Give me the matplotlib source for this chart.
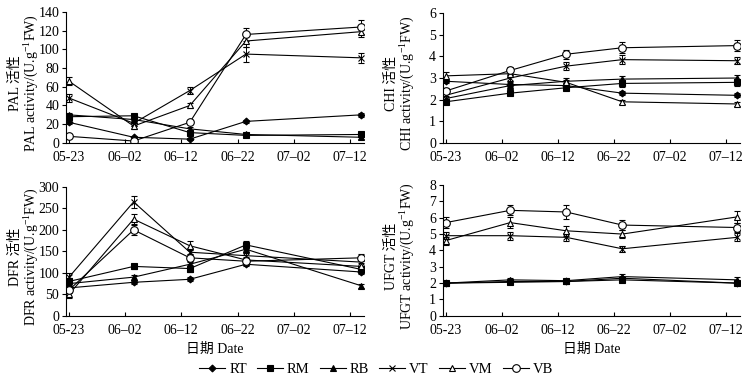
import matplotlib
matplotlib.use("Agg")
import matplotlib.pyplot as plt
from matplotlib.lines import Line2D

plt.rcParams["font.family"] = ["Liberation Serif", "Noto Sans CJK SC"]
plt.rcParams["mathtext.fontset"] = "custom"
plt.rcParams["mathtext.rm"] = "Liberation Serif"

# sampling days counted from 05-23
days = [0, 11.5, 21.5, 31.5, 52]
tick_days = [0, 10, 20, 30, 40, 50]
tick_labels = ["05-23", "06\u201302", "06\u201312", "06\u201322", "07\u201302", "07\u201312"]

series = ["RT", "RM", "RB", "VT", "VM", "VB"]

pal = {
    "RT": [22, 6, 4, 23, 30],
    "RM": [28, 29, 11, 8, 9],
    "RB": [30, 25, 15, 9, 6],
    "VT": [48, 21, 56, 95, 91],
    "VM": [66, 18, 40, 109, 119],
    "VB": [7, 2, 22, 116, 124],
}
pal_err = {
    "RT": [2, 1, 1, 2, 2],
    "RM": [3, 2, 2, 2, 3],
    "RB": [2, 2, 2, 2, 2],
    "VT": [4, 3, 4, 8, 5],
    "VM": [4, 3, 3, 6, 6],
    "VB": [2, 1, 2, 7, 7],
}

chi = {
    "RT": [2.85, 2.7, 2.65, 2.3, 2.2],
    "RM": [1.9, 2.3, 2.55, 2.75, 2.8],
    "RB": [2.05, 2.65, 2.85, 2.95, 3.0],
    "VT": [2.2, 3.0, 3.55, 3.85, 3.8],
    "VM": [3.1, 3.2, 2.8, 1.9, 1.8],
    "VB": [2.4, 3.35, 4.1, 4.4, 4.5],
}
chi_err = {
    "RT": [0.1, 0.1, 0.1, 0.1, 0.1],
    "RM": [0.1, 0.1, 0.1, 0.15, 0.15],
    "RB": [0.1, 0.1, 0.15, 0.15, 0.15],
    "VT": [0.15, 0.15, 0.2, 0.2, 0.15],
    "VM": [0.2, 0.15, 0.1, 0.1, 0.1],
    "VB": [0.15, 0.15, 0.2, 0.25, 0.25],
}

dfr = {
    "RT": [65, 78, 85, 120, 102],
    "RM": [80, 115, 110, 165, 108],
    "RB": [75, 90, 120, 155, 70],
    "VT": [90, 265, 148, 140, 125],
    "VM": [50, 225, 163, 130, 115],
    "VB": [60, 200, 135, 127, 135],
}
dfr_err = {
    "RT": [5, 5, 5, 5, 5],
    "RM": [8, 6, 8, 10, 8],
    "RB": [8, 6, 8, 8, 5],
    "VT": [10, 14, 10, 8, 8],
    "VM": [8, 12, 10, 8, 8],
    "VB": [8, 12, 10, 8, 8],
}

ufgt = {
    "RT": [2.0, 2.1, 2.1, 2.3, 2.0],
    "RM": [2.0, 2.05, 2.1, 2.2, 2.0],
    "RB": [2.0, 2.2, 2.15, 2.4, 2.2],
    "VT": [4.9, 4.9, 4.8, 4.1, 4.8],
    "VM": [4.6, 5.7, 5.2, 5.0, 6.05],
    "VB": [5.7, 6.45, 6.35, 5.55, 5.4],
}
ufgt_err = {
    "RT": [0.05, 0.1, 0.1, 0.1, 0.1],
    "RM": [0.05, 0.1, 0.1, 0.1, 0.1],
    "RB": [0.05, 0.1, 0.1, 0.15, 0.15],
    "VT": [0.2, 0.25, 0.25, 0.2, 0.25],
    "VM": [0.25, 0.35, 0.3, 0.25, 0.35],
    "VB": [0.35, 0.3, 0.4, 0.3, 0.3],
}

styles = {
    "RT": dict(marker="D", ms=3.5, mfc="black"),
    "RM": dict(marker="s", ms=4.5, mfc="black"),
    "RB": dict(marker="^", ms=4.5, mfc="black"),
    "VT": dict(marker="x", ms=5, mfc="black"),
    "VM": dict(marker="^", ms=5, mfc="white"),
    "VB": dict(marker="o", ms=5.5, mfc="white"),
}

W, H = 752, 376
panels = [
    (pal, pal_err, "PAL", 140, 20, [0.088, 0.62, 0.396, 0.348], False),
    (chi, chi_err, "CHI", 6, 1, [0.589, 0.62, 0.395, 0.345], False),
    (dfr, dfr_err, "DFR", 300, 50, [0.088, 0.16, 0.396, 0.343], True),
    (ufgt, ufgt_err, "UFGT", 8, 1, [0.589, 0.16, 0.395, 0.348], True),
]

fs = 10
fig = plt.figure(figsize=(W / 100, H / 100), dpi=100)

for data, err, name, ymax, ystep, rect, show_xlabel in panels:
    ax = fig.add_axes(rect)
    for s in series:
        st = styles[s]
        ax.errorbar(days, data[s], yerr=err[s], color="black", lw=0.8,
                    elinewidth=0.7, capsize=2.5, capthick=0.7,
                    marker=st["marker"], ms=st["ms"], mfc=st["mfc"],
                    mec="black", mew=0.8)
    ax.set_xlim(-0.5, 52.5)
    ax.set_ylim(0, ymax)
    ax.set_yticks(range(0, ymax + 1, ystep))
    ax.set_xticks(tick_days)
    ax.set_xticklabels(tick_labels)
    ax.spines["top"].set_visible(False)
    ax.spines["right"].set_visible(False)
    ax.spines["left"].set_linewidth(0.8)
    ax.spines["bottom"].set_linewidth(0.8)
    ax.tick_params(axis="x", direction="in", length=3, width=0.8, labelsize=fs, pad=6)
    ax.tick_params(axis="y", direction="out", length=3, width=0.8, labelsize=fs, pad=2)
    # two-line y label, placed by hand like the original
    ymid = rect[1] + rect[3] / 2 - 0.015
    x0 = rect[0] - 51 / W
    fig.text(x0, ymid, name + " 活性", rotation=90, ha="center", va="center", fontsize=fs)
    fig.text(x0 + 15 / W, ymid, name + r" activity/(U.g$^{-1}$FW)", rotation=90,
             ha="center", va="center", fontsize=fs)
    if show_xlabel:
        ax.set_xlabel("日期 Date", fontsize=fs, labelpad=4)

handles = []
for s in series:
    st = styles[s]
    handles.append(Line2D([], [], color="black", lw=0.8, marker=st["marker"],
                          ms=st["ms"], mfc=st["mfc"], mec="black", mew=0.8))
fig.legend(handles, series, loc="lower center", bbox_to_anchor=(0.5, -0.035),
           ncol=6, frameon=False, fontsize=10.5, handlelength=1.8,
           handletextpad=0.25, columnspacing=0.7)

fig.savefig("out.png", dpi=100)
